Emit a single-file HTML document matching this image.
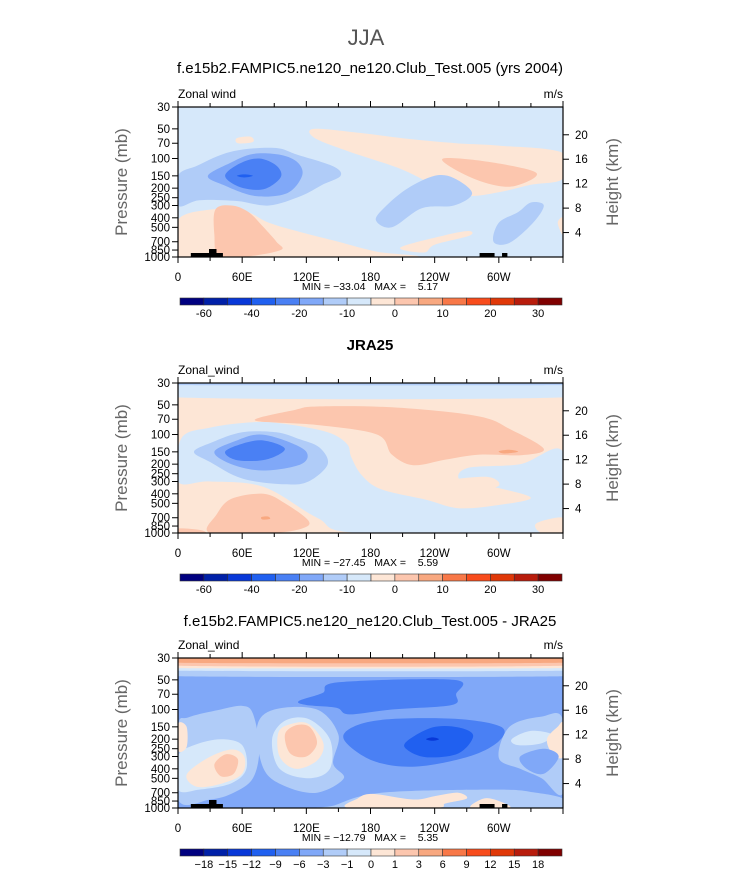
<!DOCTYPE html>
<html><head><meta charset="utf-8">
<style>
html,body{margin:0;padding:0;background:#fff;}
svg text{font-family:"Liberation Sans","DejaVu Sans",sans-serif;}
</style></head>
<body>
<svg id="fig" width="733" height="872" viewBox="0 0 733 872" xmlns="http://www.w3.org/2000/svg">
<text x="366" y="45" font-size="22" text-anchor="middle" fill="#555">JJA</text>
<g id="root"></g>
</svg>
<script>
const colors = ["#000080","#0020a8","#0838d8","#2060f0","#4a80f4","#80a8f8","#b0ccf8","#d6e8fa","#fde6d6","#fcc6ae","#f8a880","#f87848","#f84c1c","#e03808","#b81c0c","#800000"];
const pLabels = [30,50,70,100,150,200,250,300,400,500,700,850,1000];
const kmLabels = [4,8,12,16,20];
const lonTicks = [0,60,120,180,240,300];
const lonTickLabels = ["0","60E","120E","180","120W","60W"];
const cbLabelsAbs = ["-60","-40","-20","-10","0","10","20","30"];
const cbLabelsDiff = ["\u221218","\u221215","\u221212","\u22129","\u22126","\u22123","\u22121","0","1","3","6","9","12","15","18"];

const panel1Bg = 7;
const panel1Regions = [
 [8,[[127,50],[170,55],[220,64],[260,70],[300,74],[360,88],[360,160],[330,185],[300,220],[270,240],[245,200],[210,130],[160,85],[128,62]]],
 [9,[[248,100],[290,108],[335,140],[315,190],[290,180],[262,135]]],
 [8,[[55,62],[68,60],[70,68],[56,70]]],
 [6,[[0,150],[18,118],[50,85],[90,78],[112,92],[145,120],[152,150],[135,185],[115,240],[85,300],[55,270],[20,265],[0,300]]],
 [5,[[28,150],[48,112],[70,90],[96,92],[112,110],[116,150],[102,225],[72,240],[42,185]]],
 [4,[[44,150],[58,112],[76,100],[92,118],[96,155],[80,205],[58,195]]],
 [3,[[55,150],[62,145],[70,150],[62,156]]],
 [6,[[185,420],[195,300],[215,200],[240,150],[258,158],[275,225],[258,300],[228,320],[200,500]]],
 [6,[[295,700],[300,450],[318,350],[330,280],[342,300],[332,450],[310,720]]],
 [8,[[0,420],[30,330],[62,340],[85,450],[115,560],[150,700],[185,880],[215,1000],[0,1000]]],
 [8,[[208,800],[250,600],[272,545],[272,610],[240,750],[230,900]]],
 [8,[[355,450],[360,400],[360,600]]],
 [9,[[35,330],[50,300],[66,350],[80,500],[92,700],[96,850],[62,1000],[38,1000],[34,600]]]
];
const panel2Bg = 8;
const panel2Regions = [
 [7,[[0,30],[360,30],[360,42],[0,42]]],
 [6,[[0,30],[360,30],[360,31.5],[0,31.5]]],
 [9,[[72,72],[110,56],[130,52],[200,53],[280,65],[312,90],[342,140],[322,162],[282,160],[250,180],[220,205],[200,160],[186,100],[130,80]]],
 [7,[[3,110],[30,85],[70,75],[100,78],[140,95],[158,125],[162,170],[172,260],[190,360],[232,460],[262,560],[300,520],[330,440],[300,350],[265,300],[270,220],[320,200],[360,150],[360,1000],[170,1000],[130,700],[80,340],[30,300],[0,300]]],
 [8,[[255,290],[290,270],[300,330],[275,380],[250,330]]],
 [8,[[335,800],[360,700],[360,1000],[340,1000]]],
 [6,[[15,150],[32,120],[60,95],[92,95],[112,110],[132,135],[140,200],[122,300],[100,320],[60,280],[30,190]]],
 [5,[[34,150],[55,115],[76,100],[100,115],[120,150],[115,200],[80,232],[50,200]]],
 [4,[[44,150],[60,124],[80,115],[100,140],[82,180],[55,182]]],
 [9,[[30,1000],[36,650],[50,450],[80,400],[100,500],[122,750],[116,900],[88,1000]]],
 [9,[[0,900],[20,930],[25,1000],[0,1000]]],
 [10,[[78,690],[84,680],[86,720],[79,730]]],
 [10,[[300,148],[310,143],[318,150],[305,156]]]
];
const panel3Bg = 5;
const panel3Regions = [
 [6,[[0,40],[360,40],[360,46],[0,46]]],
 [7,[[0,37.5],[360,37.5],[360,40.5],[0,40.5]]],
 [8,[[0,35.5],[360,35.5],[360,38],[0,38]]],
 [9,[[0,30],[360,30],[360,36],[0,36]]],
 [10,[[0,30],[360,30],[360,33.5],[0,33.5]]],
 [4,[[113,82],[135,68],[150,53],[258,50],[260,70],[256,90],[200,100],[160,112],[148,96],[120,90]]],
 [4,[[167,145],[200,125],[262,125],[302,150],[300,210],[272,300],[222,380],[182,330],[155,200]]],
 [3,[[214,210],[238,152],[262,152],[276,185],[262,280],[232,305],[214,255]]],
 [2,[[232,200],[238,192],[244,200],[238,208]]],
 [6,[[0,150],[10,120],[40,100],[60,92],[70,110],[76,250],[70,500],[52,700],[30,820],[0,820]]],
 [7,[[0,300],[15,230],[40,200],[60,230],[64,400],[50,560],[20,650],[0,650]]],
 [8,[[8,460],[28,310],[50,255],[62,300],[60,450],[42,560],[18,610]]],
 [9,[[34,360],[45,285],[56,320],[52,450],[40,475]]],
 [8,[[0,140],[8,150],[8,240],[0,260]]],
 [6,[[74,150],[90,100],[130,100],[150,180],[145,350],[155,500],[130,700],[100,600],[80,400]]],
 [7,[[88,200],[100,130],[122,125],[142,200],[142,400],[122,500],[95,400]]],
 [8,[[94,170],[106,140],[122,140],[136,220],[130,330],[110,400],[95,300]]],
 [9,[[100,180],[110,145],[123,150],[130,220],[120,300],[105,280]]],
 [6,[[145,950],[190,700],[300,650],[335,700],[360,800],[360,1000],[140,1000]]],
 [8,[[160,1000],[168,800],[182,720],[220,820],[242,750],[262,700],[270,800],[250,900],[240,1000]]],
 [8,[[274,1000],[286,800],[300,850],[310,1000]]],
 [6,[[300,310],[310,150],[340,118],[360,128],[360,700],[340,500],[320,400]]],
 [7,[[312,200],[330,165],[350,180],[340,220],[318,230]]],
 [8,[[345,200],[355,150],[360,140],[360,300],[350,280]]],
 [5,[[320,300],[342,250],[356,300],[342,450],[326,400]]]
];

const panels = [
 {title:"f.e15b2.FAMPIC5.ne120_ne120.Club_Test.005 (yrs 2004)", bold:false, ty:73, top:107, bg:panel1Bg, regions:panel1Regions, topo:true, minmax:"MIN = \u221233.04   MAX =    5.17", cbY:298, cbLabels:cbLabelsAbs, cbStep:2},
 {title:"JRA25", bold:true, ty:350, top:383, bg:panel2Bg, regions:panel2Regions, topo:false, minmax:"MIN = \u221227.45   MAX =    5.59", cbY:574, cbLabels:cbLabelsAbs, cbStep:2},
 {title:"f.e15b2.FAMPIC5.ne120_ne120.Club_Test.005 - JRA25", bold:false, ty:626, top:658, bg:panel3Bg, regions:panel3Regions, topo:true, minmax:"MIN = \u221212.79   MAX =    5.35", cbY:849, cbLabels:cbLabelsDiff, cbStep:1}
];

const NS="http://www.w3.org/2000/svg";
const root=document.getElementById('root');
const X0=178, W=385, H=150;
function mk(tag, attrs, parent){const e=document.createElementNS(NS,tag);for(const k in attrs)e.setAttribute(k,attrs[k]);(parent||root).appendChild(e);return e;}
function xs(lon){return X0+lon/360*W;}
function ys(top,p){return top+Math.log(p/30)/Math.log(1000/30)*H;}
function smoothPath(pts){
  const n=pts.length;let d="M"+pts[0][0].toFixed(1)+","+pts[0][1].toFixed(1);
  for(let i=0;i<n;i++){
    const p0=pts[(i-1+n)%n],p1=pts[i],p2=pts[(i+1)%n],p3=pts[(i+2)%n];
    const c1=[p1[0]+(p2[0]-p0[0])/6,p1[1]+(p2[1]-p0[1])/6];
    const c2=[p2[0]-(p3[0]-p1[0])/6,p2[1]-(p3[1]-p1[1])/6];
    d+="C"+c1[0].toFixed(1)+","+c1[1].toFixed(1)+" "+c2[0].toFixed(1)+","+c2[1].toFixed(1)+" "+p2[0].toFixed(1)+","+p2[1].toFixed(1);
  }
  return d+"Z";
}

panels.forEach((P,pi)=>{
  const g=mk('g',{});
  
  
  const t=mk('text',{x:370,y:P.ty,'font-size':15,'text-anchor':'middle',fill:'#000','font-weight':P.bold?'bold':'normal'},g);
  t.textContent=P.title;
  
  
  const top=P.top;
  const cid='clip'+pi;
  const cp=mk('clipPath',{id:cid},g);mk('rect',{x:X0,y:top,width:W,height:H},cp);
  const bgr=mk('rect',{x:X0,y:top,width:W,height:H,fill:colors[P.bg]},g);
  
  
  const cg=mk('g',{'clip-path':'url(#'+cid+')'},g);
  P.regions.forEach(r=>{
    const pts=r[1].map(q=>[xs(q[0]),ys(top,q[1])]);
    const pa=mk('path',{d:smoothPath(pts),fill:colors[r[0]]},cg);
    
    
  });
  if(P.topo){
    const b=top+H;
    [[12,42,4],[29,36,8],[282,296,4],[303,308,4]].forEach(tp=>{
      const rr=mk('rect',{x:xs(tp[0]),y:b-tp[2],width:xs(tp[1])-xs(tp[0]),height:tp[2],fill:'#000'},cg);
      
      
    });
  }
  const fr=mk('rect',{x:X0,y:top,width:W,height:H,fill:'none',stroke:'#000','stroke-width':1.2},g);
  
  
  pLabels.forEach(p=>{
    const y=ys(top,p);
    mk('line',{x1:X0-6,x2:X0,y1:y,y2:y,stroke:'#000'},g);
    const tx=mk('text',{x:X0-8,y:y+4,'font-size':11.5,'text-anchor':'end',fill:'#000'},g);
    tx.textContent=p;
    
    
  });
  kmLabels.forEach(k=>{
    const p=1000*Math.exp(-k/7);const y=ys(top,p);
    mk('line',{x1:X0+W,x2:X0+W+6,y1:y,y2:y,stroke:'#000'},g);
    const tx=mk('text',{x:X0+W+12,y:y+4,'font-size':11.5,fill:'#000'},g);
    tx.textContent=k;
    
    
  });
  for(let lon=0;lon<=360;lon+=30){
    const x=xs(lon);const L=lon%60===0?6:4;
    mk('line',{x1:x,x2:x,y1:top-L,y2:top,stroke:'#000'},g);
    mk('line',{x1:x,x2:x,y1:top+H,y2:top+H+L,stroke:'#000'},g);
  }
  lonTicks.forEach((lon,i)=>{
    const tx=mk('text',{x:xs(lon),y:top+H+24,'font-size':11.5,'text-anchor':'middle',fill:'#000'},g);
    tx.textContent=lonTickLabels[i];
    
    
  });
  const mm=mk('text',{x:370,y:top+H+33,'font-size':10.5,'text-anchor':'middle',fill:'#000',style:'white-space:pre'},g);
  mm.textContent=P.minmax;
  
  
  const zl=mk('text',{x:X0,y:top-9,'font-size':12,fill:'#000'},g);
  zl.textContent=pi===0?"Zonal wind":"Zonal_wind";
  
  
  const ul=mk('text',{x:X0+W,y:top-9,'font-size':12,'text-anchor':'end',fill:'#000'},g);
  ul.textContent="m/s";
  
  
  const yl=mk('text',{x:0,y:0,'font-size':17,'text-anchor':'middle',fill:'#666',transform:'translate(127,'+(top+H/2)+') rotate(-90)'},g);
  yl.textContent="Pressure (mb)";
  
  
  const yr=mk('text',{x:0,y:0,'font-size':17,'text-anchor':'middle',fill:'#666',transform:'translate(618,'+(top+H/2)+') rotate(-90)'},g);
  yr.textContent="Height (km)";
  
  
  const cx0=180,cw=(562-180)/16,cy=P.cbY;
  colors.forEach((c,i)=>{
    const r=mk('rect',{x:cx0+i*cw,y:cy,width:cw,height:7,fill:c,stroke:'#333','stroke-width':0.6},g);
    
    
  });
  P.cbLabels.forEach((lab,i)=>{
    const b=P.cbStep===2?1+2*i:1+i;
    const tx=mk('text',{x:cx0+b*cw,y:cy+19,'font-size':11,'text-anchor':'middle',fill:'#000'},g);
    tx.textContent=lab;
    
    
  });
});
</script>
</body></html>
